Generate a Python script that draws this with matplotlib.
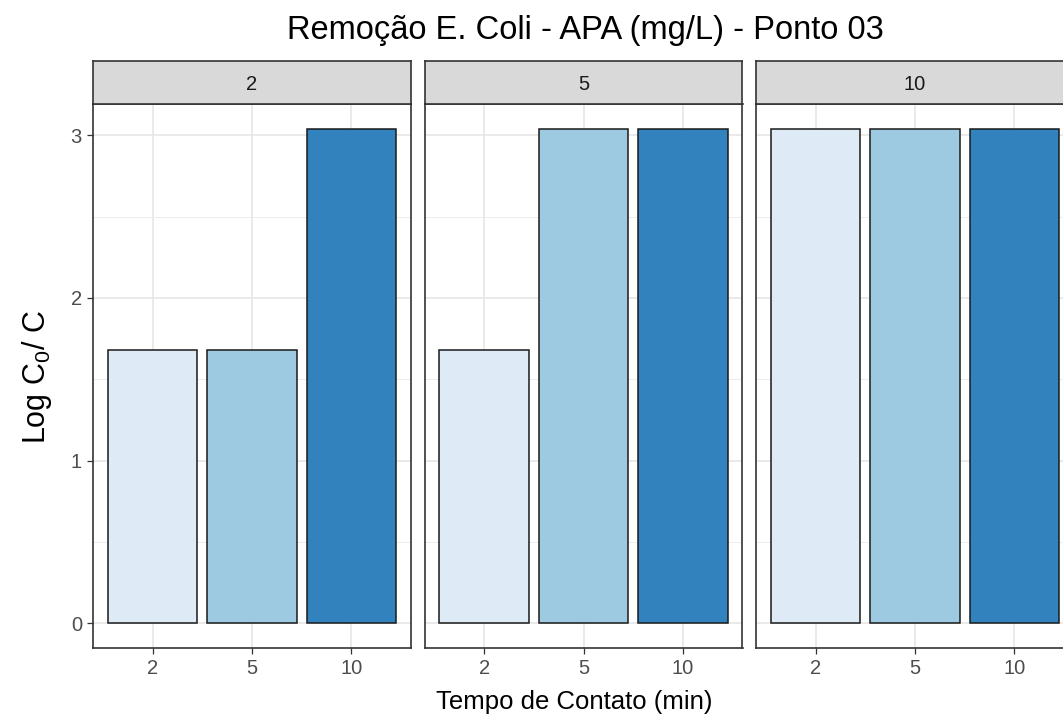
import matplotlib
matplotlib.use("Agg")
import matplotlib.pyplot as plt
from matplotlib.ticker import MultipleLocator
import numpy as np

plt.rcParams["font.family"] = ["Liberation Sans", "DejaVu Sans"]
plt.rcParams["mathtext.default"] = "regular"

# APA dose facets (mg/L), contact times (min) and log removal per bar
doses = ["2", "5", "10"]
tempos = ["2", "5", "10"]
remocao = {
    "2": [1.68, 1.68, 3.04],
    "5": [1.68, 3.04, 3.04],
    "10": [3.04, 3.04, 3.04],
}
cores = ["#DEEBF7", "#9ECAE1", "#3182BD"]

W, H = 1063, 719
fig = plt.figure(figsize=(W / 100, H / 100), dpi=100)

def fx(px):
    return px / W

def fy(py):
    return 1 - py / H

panel_left = [93, 424.5, 756]
panel_w = 318
top, bottom = 104, 648
strip_top = 61

ymax = max(max(v) for v in remocao.values())
ylim = (-0.05 * ymax, 1.05 * ymax)

for i, d in enumerate(doses):
    ax = fig.add_axes([fx(panel_left[i]), fy(bottom), fx(panel_w), (bottom - top) / H])
    x = np.arange(len(tempos))
    ax.bar(x, remocao[d], width=0.9, color=cores, edgecolor="#1A1A1A", linewidth=1.1, zorder=3)
    ax.set_xlim(-0.6, len(tempos) - 0.4)
    ax.set_ylim(*ylim)
    ax.set_xticks(x)
    ax.set_xticklabels(tempos)
    ax.yaxis.set_major_locator(MultipleLocator(1))
    ax.yaxis.set_minor_locator(MultipleLocator(0.5))
    ax.grid(which="major", color="#E6E6E6", linewidth=1.2, zorder=0)
    ax.grid(which="minor", axis="y", color="#EDEDED", linewidth=0.7, zorder=0)
    ax.set_axisbelow(True)
    for s in ax.spines.values():
        s.set_color("#333333")
        s.set_linewidth(1.2)
    ax.tick_params(which="major", length=4, width=0.9, color="#333333",
                   labelcolor="#4D4D4D", labelsize=14.5, pad=4)
    ax.tick_params(which="minor", length=0)
    if i > 0:
        ax.tick_params(axis="y", which="both", left=False, labelleft=False)

    # facet strip
    sax = fig.add_axes([fx(panel_left[i]), fy(top), fx(panel_w), (top - strip_top) / H])
    sax.set_facecolor("#D9D9D9")
    sax.set_xticks([])
    sax.set_yticks([])
    for s in sax.spines.values():
        s.set_color("#333333")
        s.set_linewidth(1.2)
    sax.text(0.5, 0.45, d, ha="center", va="center", fontsize=14.5, color="#1A1A1A",
             transform=sax.transAxes)

fig.text(fx(585), fy(31), "Remoção E. Coli - APA (mg/L) - Ponto 03",
         ha="center", va="center", fontsize=23.5, color="#000000")
fig.text(fx(574), fy(702), "Tempo de Contato (min)",
         ha="center", va="center", fontsize=18.5, color="#000000")
fig.text(fx(37), fy(377), "Log C$_0$/ C", rotation=90,
         ha="center", va="center", fontsize=22, color="#000000")

fig.savefig("out.png", dpi=100)
